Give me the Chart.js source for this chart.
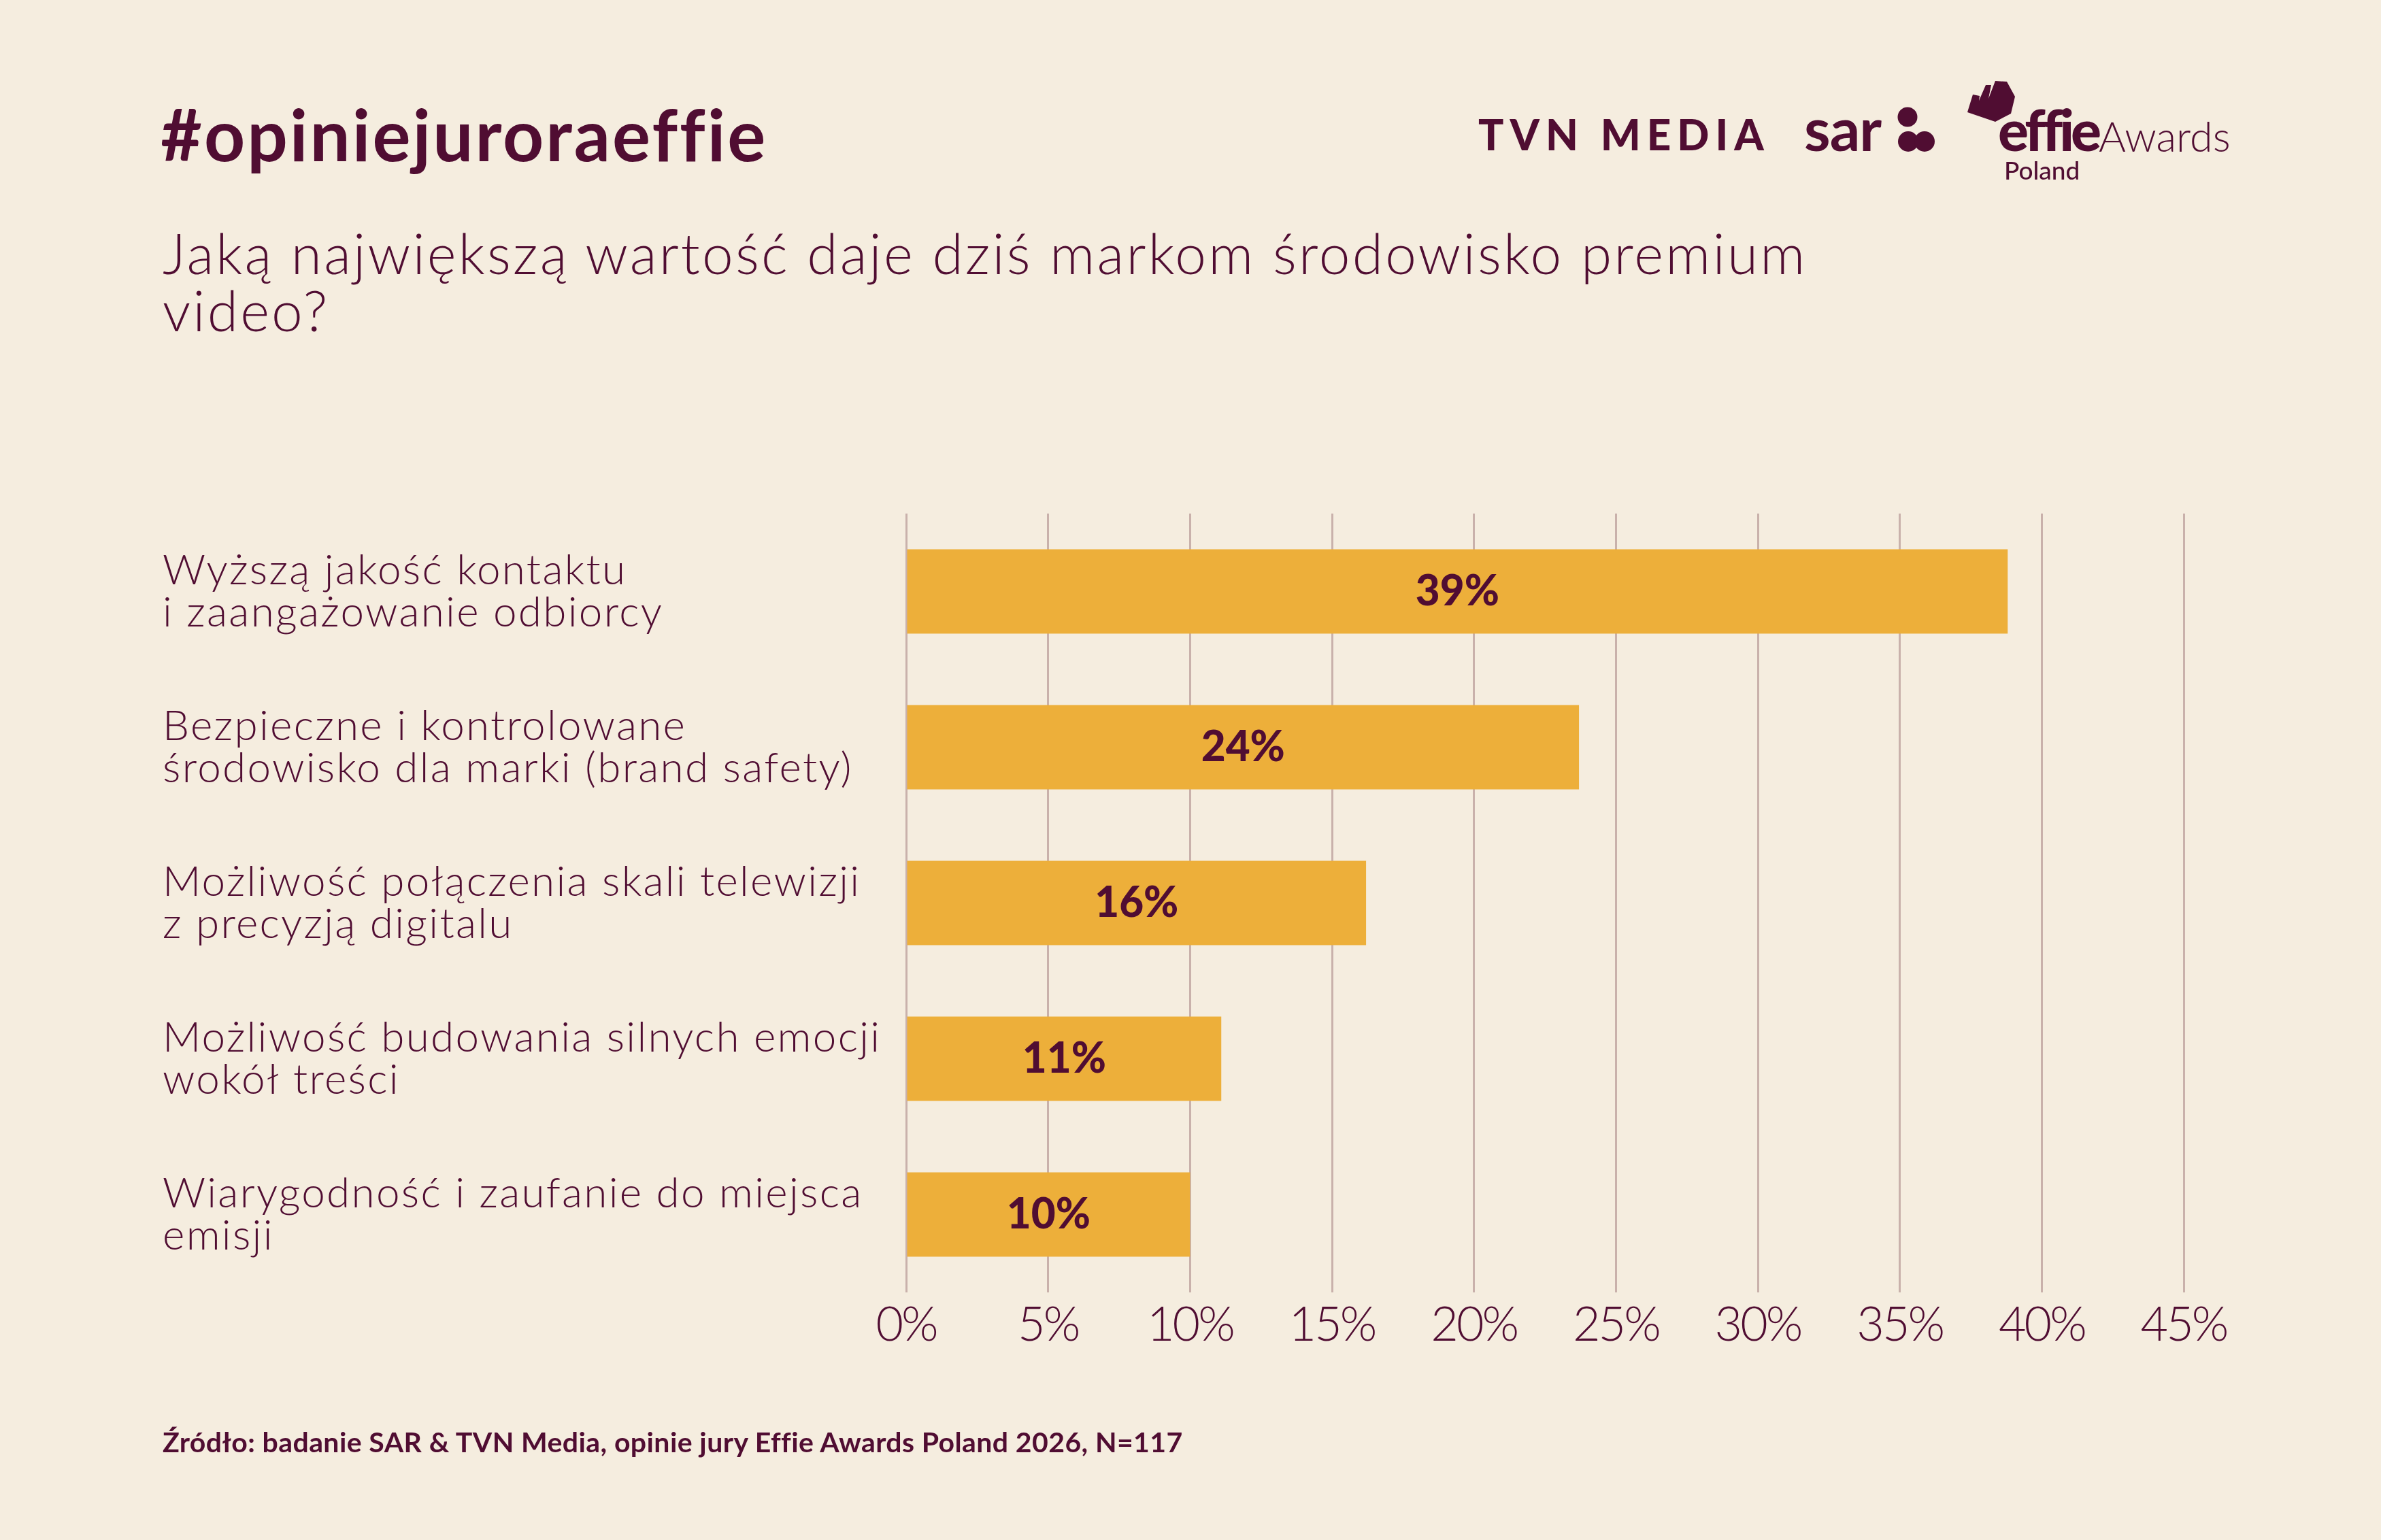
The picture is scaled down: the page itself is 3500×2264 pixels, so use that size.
<!DOCTYPE html>
<html><head><meta charset="utf-8">
<script src="https://cdn.jsdelivr.net/npm/chart.js@4.4.1/dist/chart.umd.min.js"></script>
<style>
html,body{margin:0;padding:0;background:#F5EDDF;}
body{width:3500px;height:2264px;position:relative;overflow:hidden;font-family:Lato,sans-serif;color:#500D32;}
#wrap{position:absolute;left:0;top:0;width:3500px;height:2264px;}
.t{position:absolute;white-space:nowrap;line-height:1.2;}
</style></head><body>
<div id="wrap"><canvas id="c"></canvas></div>

<div class="t" style="left:236px;top:133px;font-size:105px;font-weight:700;letter-spacing:3px;">#opiniejuroraeffie</div>
<div class="t" style="left:239px;top:329px;font-size:82px;font-weight:300;line-height:84px;letter-spacing:3.2px;">Jaką największą wartość daje dziś markom środowisko premium<br>video?</div>
<div class="t" style="left:239px;top:2095px;font-size:41px;font-weight:700;letter-spacing:0.4px;">Źródło: badanie SAR &amp; TVN Media, opinie jury Effie Awards Poland 2026, N=117</div>

<div class="t" style="left:2173px;top:160px;font-size:62px;font-weight:900;letter-spacing:9px;">TVN MEDIA</div>
<div class="t" style="left:2652px;top:136px;font-size:88px;font-weight:700;letter-spacing:-1px;">sar</div>
<div class="t" style="left:2937px;top:140px;font-size:84px;font-weight:900;letter-spacing:-5px;">effie</div>
<div class="t" style="left:3085px;top:163px;font-size:61px;font-weight:300;">Awards</div>
<div class="t" style="left:2946px;top:228px;font-size:37px;font-weight:500;">Poland</div>
<svg style="position:absolute;left:0;top:0" width="3500" height="300">
  <g fill="#500D32">
    <circle cx="2804" cy="172" r="14.5"/>
    <circle cx="2805" cy="208" r="15"/>
    <circle cx="2829" cy="208" r="15"/>
    <polygon points="2900,139 2910,141 2909,148 2919,125 2927,125 2923,145 2933,119 2950,120 2962,142 2956,167 2933,179 2892,165"/>
  </g>
</svg>

<script>
const categories = [
  ['Wyższą jakość kontaktu', 'i zaangażowanie odbiorcy'],
  ['Bezpieczne i kontrolowane', 'środowisko dla marki (brand safety)'],
  ['Możliwość połączenia skali telewizji', 'z precyzją digitalu'],
  ['Możliwość budowania silnych emocji', 'wokół treści'],
  ['Wiarygodność i zaufanie do miejsca', 'emisji']
];
const values = [38.8, 23.7, 16.2, 11.1, 10.0];
const valueLabels = ['39%', '24%', '16%', '11%', '10%'];
const axisMin = 0;
const axisMax = 45;
const axisStep = 5;

const MAROON = '#500D32';
const BAR = '#EDAF3A';
const GRID = '#C9B1AB';

function spaceLabels(scale, spacing) {
  if (scale._spaced) return;
  const orig = scale.drawLabels.bind(scale);
  scale.drawLabels = function (area) {
    const ctx = this.ctx;
    ctx.save();
    ctx.letterSpacing = spacing;
    orig(area);
    ctx.restore();
  };
  scale._spaced = true;
}

const barLabels = {
  id: 'barLabels',
  afterDatasetsDraw(chart) {
    const ctx = chart.ctx;
    const meta = chart.getDatasetMeta(0);
    ctx.save();
    ctx.font = '900 62px Lato';
    ctx.fillStyle = MAROON;
    ctx.textAlign = 'center';
    ctx.textBaseline = 'middle';
    meta.data.forEach((bar, i) => {
      ctx.fillText(valueLabels[i], (bar.x + bar.base) / 2, bar.y);
    });
    ctx.restore();
  }
};

new Chart(document.getElementById('c'), {
  type: 'bar',
  data: {
    labels: categories,
    datasets: [{
      data: values,
      backgroundColor: BAR,
      borderWidth: 0,
      barPercentage: 0.542,
      categoryPercentage: 1.0
    }]
  },
  plugins: [barLabels],
  options: {
    indexAxis: 'y',
    responsive: true,
    maintainAspectRatio: false,
    animation: false,
    devicePixelRatio: 1,
    layout: { padding: { left: 239, right: 290, top: 755, bottom: 264 } },
    plugins: { legend: { display: false }, tooltip: { enabled: false } },
    scales: {
      x: {
        min: axisMin, max: axisMax,
        ticks: {
          stepSize: axisStep,
          callback: v => v + '%',
          color: MAROON,
          font: { family: 'Lato', size: 70, weight: 300 },
          padding: 6,
          maxRotation: 0
        },
        grid: { color: GRID, lineWidth: 3, drawTicks: false },
        border: { display: false },
        afterFit: s => { s.height = 100; spaceLabels(s, '-3px'); }
      },
      y: {
        ticks: {
          color: MAROON,
          font: { family: 'Lato', size: 62, weight: 300, lineHeight: 1.0 },
          crossAlign: 'far'
        },
        grid: { display: false },
        border: { display: false },
        afterFit: s => { s.width = 1093; spaceLabels(s, '2.3px'); }
      }
    }
  }
});
</script>
</body></html>
